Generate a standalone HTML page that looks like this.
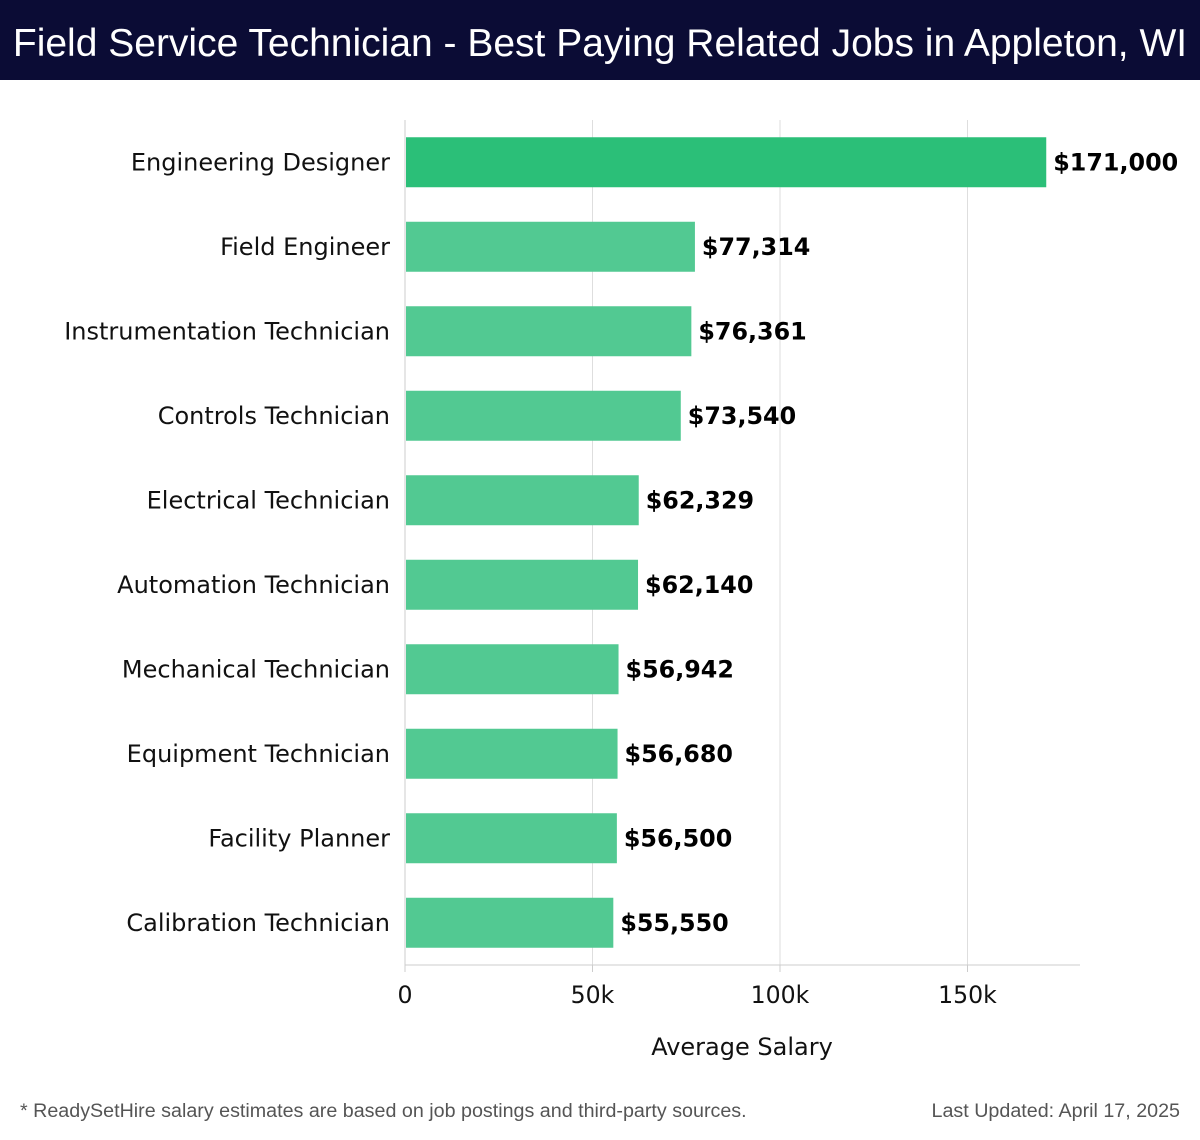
<!DOCTYPE html>
<html><head><meta charset="utf-8"><style>
body{margin:0;width:1200px;height:1140px;background:#fff;font-family:"Liberation Sans","DejaVu Sans",sans-serif;overflow:hidden}
#hdr{position:absolute;left:0;top:0;width:1200px;height:80px;background:#0b0c35;color:#fff;font-size:39px;line-height:88px;text-align:center;white-space:nowrap}
.foot{position:absolute;top:1100px;font-size:19.7px;color:#555}
svg text{font-family:"DejaVu Sans",sans-serif}
</style></head><body>
<div id="hdr">Field Service Technician - Best Paying Related Jobs in Appleton, WI</div>
<svg id="chart" width="1200" height="1140" style="position:absolute;left:0;top:0"></svg>
<div class="foot" style="left:20px">* ReadySetHire salary estimates are based on job postings and third-party sources.</div>
<div class="foot" style="right:20px">Last Updated: April 17, 2025</div>
<script>
const categories=["Engineering Designer","Field Engineer","Instrumentation Technician","Controls Technician","Electrical Technician","Automation Technician","Mechanical Technician","Equipment Technician","Facility Planner","Calibration Technician"];
const salaries=[171000,77314,76361,73540,62329,62140,56942,56680,56500,55550];
const tickValues=[0,50000,100000,150000];
const tickLabels=["0","50k","100k","150k"];
const NS="http://www.w3.org/2000/svg";
const svg=document.getElementById('chart');
const x0=405,pxPerUnit=187.5/50000,plotTop=120,plotBottom=965,plotRight=1080;
const band=(plotBottom-plotTop)/categories.length;
const xs=v=>x0+v*pxPerUnit;
const yc=i=>plotTop+band*(i+0.5);
function mk(t,a){const e=document.createElementNS(NS,t);for(const k in a)e.setAttribute(k,a[k]);svg.appendChild(e);return e;}
tickValues.forEach((v,i)=>{
 if(v>0){const g=mk('line',{x1:xs(v),x2:xs(v),y1:plotTop,y2:plotBottom,stroke:'#dedede','stroke-width':1});
 
 }
 const tk=mk('line',{x1:xs(v),x2:xs(v),y1:plotBottom,y2:plotBottom+7,stroke:'#ccc'});
 
 
 const t=mk('text',{x:xs(v),y:1003,'text-anchor':'middle','font-size':23.6,fill:'#111'});
 t.textContent=tickLabels[i];
 
 
});
const ax=mk('line',{x1:x0,x2:x0,y1:plotTop,y2:plotBottom,stroke:'#ccc'});


const bx=mk('line',{x1:x0,x2:plotRight,y1:plotBottom,y2:plotBottom,stroke:'#ccc'});


categories.forEach((c,i)=>{
 const y=yc(i),h=50;
 const r=mk('rect',{x:x0+1,y:y-h/2,width:xs(salaries[i])-x0-1,height:h,fill:i===0?'#2bbf78':'#52c992'});
 
 
 const l=mk('text',{x:390,y:y+8,'text-anchor':'end','font-size':24,fill:'#111'});
 l.textContent=c;
 
 
 const v=mk('text',{x:xs(salaries[i])+7,y:y+8,'font-size':23.8,'font-weight':'bold',fill:'#000'});
 v.textContent='$'+salaries[i].toLocaleString('en-US');
 
 
});
const at=mk('text',{x:742,y:1055,'text-anchor':'middle','font-size':24,fill:'#111'});
at.textContent='Average Salary';


</script>
</body></html>
